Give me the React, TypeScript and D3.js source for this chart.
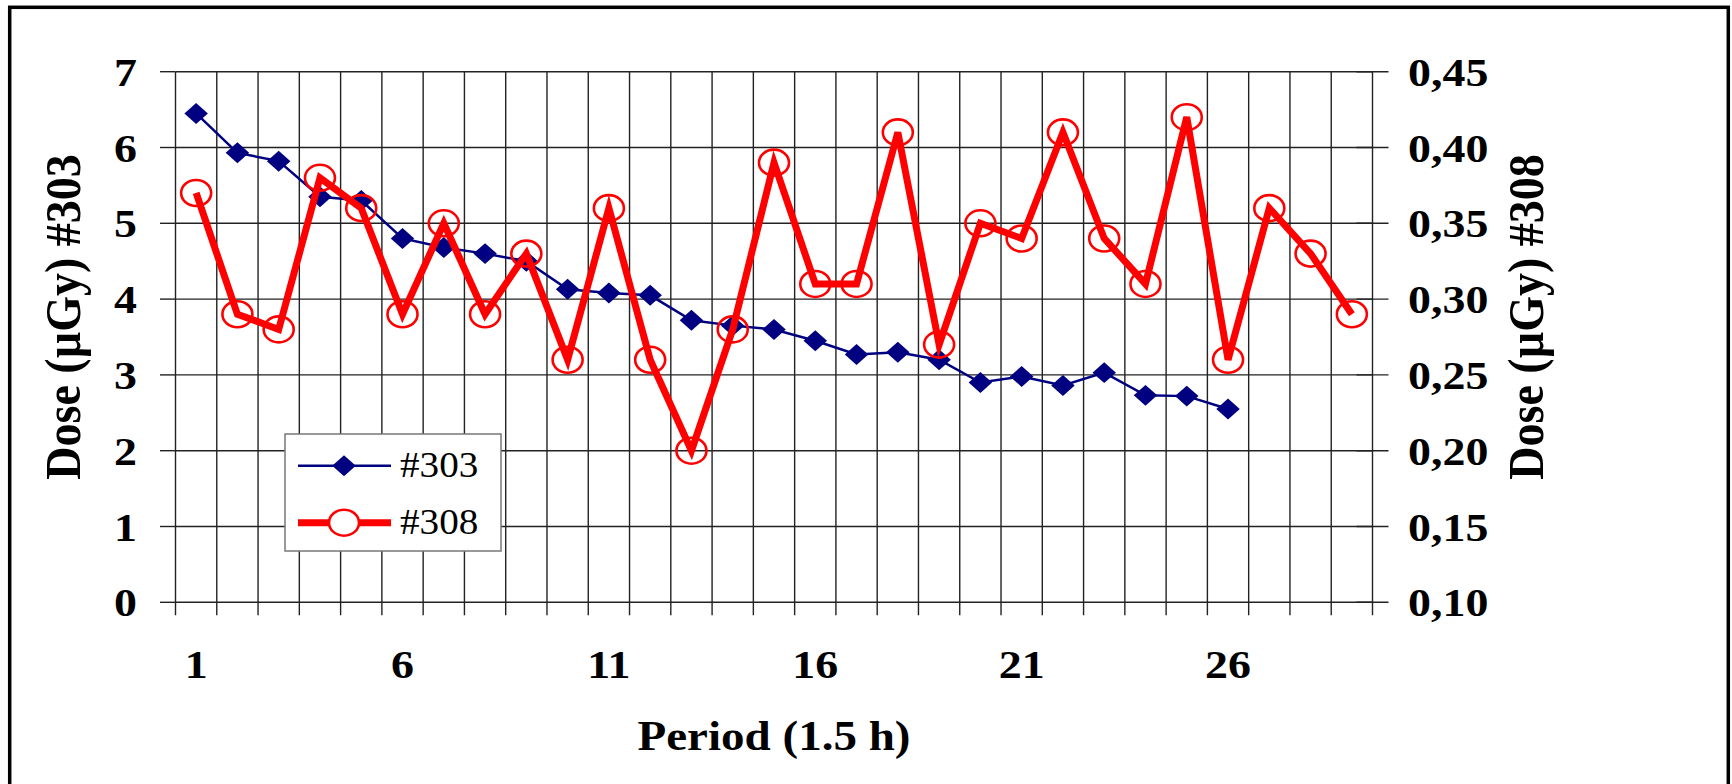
import * as d3 from "d3"

const periods = d3.range(1, 30)
const dose303 = [6.45, 5.93, 5.82, 5.35, 5.3, 4.8, 4.68, 4.6, 4.5, 4.13, 4.08, 4.05, 3.72, 3.65, 3.6, 3.45, 3.27, 3.3, 3.2, 2.9, 2.98, 2.86, 3.03, 2.73, 2.72, 2.55]
const dose308 = [0.37, 0.29, 0.28, 0.38, 0.36, 0.29, 0.35, 0.29, 0.33, 0.26, 0.36, 0.26, 0.2, 0.28, 0.39, 0.31, 0.31, 0.41, 0.27, 0.35, 0.34, 0.41, 0.34, 0.31, 0.42, 0.26, 0.36, 0.33, 0.29]
const leftTicks = [0, 1, 2, 3, 4, 5, 6, 7]
const rightTicks = [0.1, 0.15, 0.2, 0.25, 0.3, 0.35, 0.4, 0.45]
const xLabels = [1, 6, 11, 16, 21, 26]

const W = 1732
const H = 784
const M = { left: 175.5, right: 1372.5, top: 71.7, bottom: 602.3 }
const FONT = "'Liberation Serif', 'Times New Roman', Times, serif"
const SX = 1.12 // the source picture is stretched sideways
const NAVY = "#000080"
const RED = "#ff0000"

export default function App() {
  const x = d3.scaleBand<number>().domain(periods).range([M.left, M.right]).paddingInner(0).paddingOuter(0)
  const cx = (p: number) => (x(p) ?? 0) + x.bandwidth() / 2
  const yL = d3.scaleLinear().domain([0, 7]).range([M.bottom, M.top])
  const yR = d3.scaleLinear().domain([0.1, 0.45]).range([M.bottom, M.top])

  const pts303 = dose303.map((v, i) => [cx(periods[i]), yL(v)] as [number, number])
  const pts308 = dose308.map((v, i) => [cx(periods[i]), yR(v)] as [number, number])
  const line = d3.line()
  const diamond = d3.symbol(d3.symbolSquare, 220)() ?? ""

  const bounds = [...periods.map((p) => x(p) ?? 0), M.right]

  const label = (tx: number, ty: number, text: string, opts: any = {}) => (
    <text
      key={text + tx + ty}
      transform={`translate(${tx},${ty}) scale(${SX},1)`}
      fontFamily={FONT}
      fontWeight={opts.weight ?? "bold"}
      fontSize={opts.size ?? 41}
      textAnchor={opts.anchor ?? "middle"}
      fill="#000"
    >
      {text}
    </text>
  )

  return (
    <svg width={W} height={H} style={{ position: "absolute", left: 0, top: 0, background: "#fff" }}>
      <rect x={9.7} y={7.3} width={1718.6} height={800} fill="#fff" stroke="#000" strokeWidth={3.5} />

      {/* grid */}
      {leftTicks.map((t) => (
        <line key={"h" + t} x1={M.left} x2={M.right} y1={yL(t)} y2={yL(t)} stroke="#222" strokeWidth={1.4} />
      ))}
      {bounds.map((b, i) => (
        <line key={"v" + i} x1={b} x2={b} y1={M.top} y2={M.bottom + 13} stroke="#222" strokeWidth={1.4} />
      ))}
      {leftTicks.map((t) => (
        <line key={"lt" + t} x1={160} x2={M.left} y1={yL(t)} y2={yL(t)} stroke="#222" strokeWidth={1.4} />
      ))}
      {rightTicks.map((t) => (
        <line key={"rt" + t} x1={M.right - 16} x2={M.right + 16} y1={yR(t)} y2={yR(t)} stroke="#222" strokeWidth={1.4} />
      ))}

      {/* tick labels */}
      {leftTicks.map((t) => label(137, yL(t) + 14, String(t), { anchor: "end" }))}
      {rightTicks.map((t) => label(1408, yR(t) + 14, d3.format(".2f")(t).replace(".", ","), { anchor: "start" }))}
      {xLabels.map((p) => label(cx(p), 678, String(p)))}

      {/* titles */}
      {label((M.left + M.right) / 2, 750, "Period (1.5 h)", { size: 42 })}
      <text transform={`translate(80,317) rotate(-90) scale(1,${SX})`} fontFamily={FONT} fontWeight="bold" fontSize={46} textAnchor="middle">
        Dose (µGy) #303
      </text>
      <text transform={`translate(1543,317) rotate(-90) scale(1,${SX})`} fontFamily={FONT} fontWeight="bold" fontSize={46} textAnchor="middle">
        Dose (µGy) #308
      </text>

      {/* #303 series */}
      <path d={line(pts303) ?? ""} fill="none" stroke={NAVY} strokeWidth={2.5} />
      {pts303.map(([px, py], i) => (
        <path key={"d" + i} d={diamond} transform={`translate(${px},${py}) scale(${SX},1) rotate(45)`} fill={NAVY} />
      ))}

      {/* #308 series */}
      <path d={line(pts308) ?? ""} fill="none" stroke={RED} strokeWidth={7} strokeLinejoin="miter" />
      {pts308.map(([px, py], i) => (
        <ellipse key={"c" + i} cx={px} cy={py} rx={15} ry={13} fill="none" stroke={RED} strokeWidth={2.6} />
      ))}

      {/* legend */}
      <rect x={285} y={434} width={216} height={117} fill="#fff" stroke="#777" strokeWidth={1.5} />
      <line x1={298} x2={391} y1={465.7} y2={465.7} stroke={NAVY} strokeWidth={2.5} />
      <path d={diamond} transform={`translate(344,465.7) scale(${SX},1) rotate(45)`} fill={NAVY} />
      {label(400, 477, "#303", { weight: "normal", size: 35, anchor: "start" })}
      <line x1={298} x2={391} y1={522.7} y2={522.7} stroke={RED} strokeWidth={7} />
      <ellipse cx={344} cy={522.7} rx={15} ry={13} fill="#fff" stroke={RED} strokeWidth={2.6} />
      {label(400, 534, "#308", { weight: "normal", size: 35, anchor: "start" })}
    </svg>
  )
}
